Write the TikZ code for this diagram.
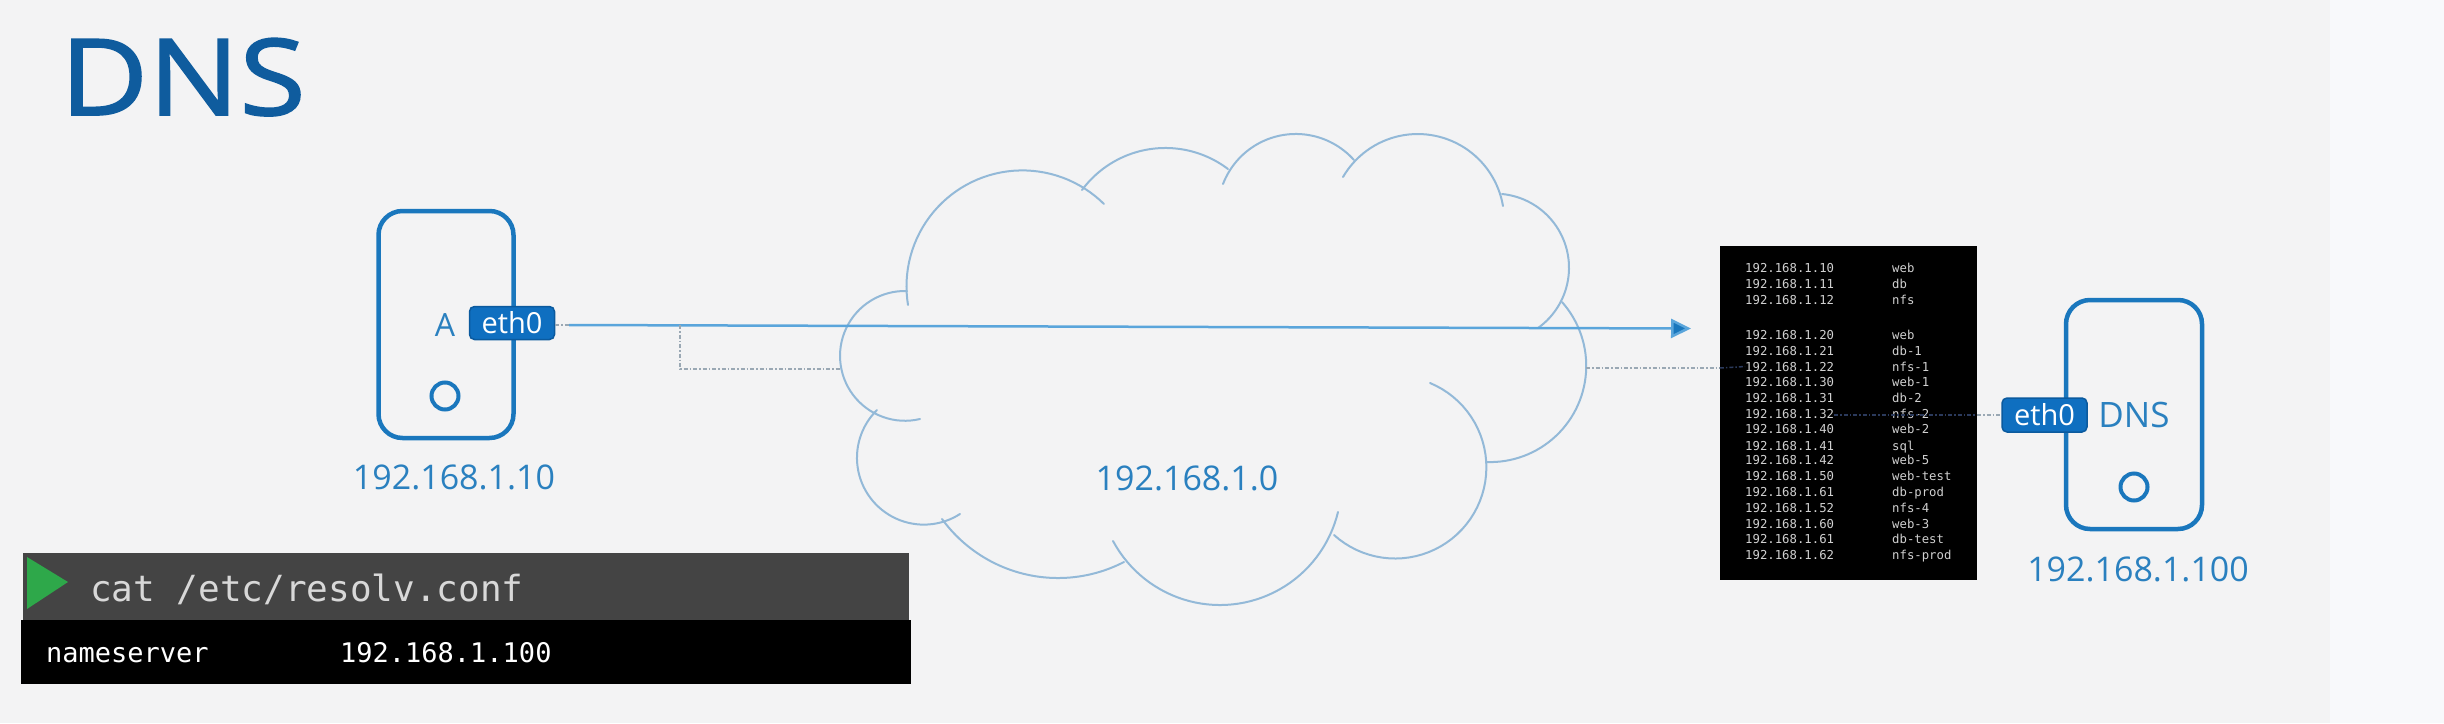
\documentclass[tikz,border=0pt]{standalone}
\usepackage{fontspec}
\setmainfont{Open Sans}
\newfontfamily\monof{DejaVu Sans Mono}
\newfontfamily\titlef[FakeStretch=1.14,FakeBold=1.6]{Open Sans}
\usetikzlibrary{arrows.meta}
\definecolor{bgmain}{HTML}{F3F3F4}
\definecolor{bgright}{HTML}{F8F9FB}
\definecolor{titleblue}{HTML}{0F5C9E}
\definecolor{hostblue}{HTML}{1A77BD}
\definecolor{ipblue}{HTML}{2A80BF}
\definecolor{badgeblue}{HTML}{0F6FC0}
\definecolor{badgeedge}{HTML}{0B5A9E}
\definecolor{cloudblue}{HTML}{93B9D8}
\definecolor{linkblue}{HTML}{5AA5DB}
\definecolor{dotgrey}{HTML}{9AA8B4}
\definecolor{dotdark}{HTML}{2B3A5C}
\definecolor{termgrey}{HTML}{444444}
\definecolor{termgreen}{HTML}{2EA84A}
\definecolor{termtext}{HTML}{D8D8D8}
\definecolor{hoststext}{HTML}{D0D0D0}
\tikzset{
  hostbox/.style={draw=hostblue,line width=4.5pt,rounded corners=24pt,inner sep=0pt},
  badge/.style={draw=badgeedge,line width=1.5pt,fill=badgeblue,rounded corners=5pt,inner sep=0pt,text=white,font=\fontsize{29}{31}\selectfont},
  led/.style={circle,draw=hostblue,line width=4pt,minimum size=27pt,inner sep=0pt},
  iplabel/.style={inner sep=0pt,text=ipblue,font=\fontsize{34}{36}\selectfont},
  cloudline/.style={draw=cloudblue,line width=2pt,line cap=round},
  link/.style={draw=linkblue,line width=2.5pt},
  dotlink/.style={draw=dotgrey,line width=1.5pt,dash pattern=on 4pt off 2pt on 1.5pt off 2pt},
  dotlinkdark/.style={draw=dotdark,line width=1.5pt,dash pattern=on 4pt off 2pt on 1.5pt off 2pt},
  hostsline/.style={inner sep=0pt,anchor=base west,text=hoststext,font=\monof\fontsize{12.3}{14}\selectfont},
  termline/.style={inner sep=0pt,anchor=base west,font=\monof}
}
\newcommand{\hostsrow}[3]{%
  \node[hostsline] (ip#1) at (1745,#1) {#2};
  \node[hostsline] (nm#1) at (1892,#1) {#3};
}
% one cloud lobe: the circular arc through three points (start, middle, end)
\newcommand{\lobe}[6]{%
  \pgfmathsetmacro{\xa}{(#1-1200)/100}\pgfmathsetmacro{\ya}{(#2-370)/100}%
  \pgfmathsetmacro{\xb}{(#3-1200)/100}\pgfmathsetmacro{\yb}{(#4-370)/100}%
  \pgfmathsetmacro{\xc}{(#5-1200)/100}\pgfmathsetmacro{\yc}{(#6-370)/100}%
  \pgfmathsetmacro{\dd}{2*(\xa*(\yb-\yc)+\xb*(\yc-\ya)+\xc*(\ya-\yb))}%
  \pgfmathsetmacro{\sa}{\xa*\xa+\ya*\ya}\pgfmathsetmacro{\sb}{\xb*\xb+\yb*\yb}\pgfmathsetmacro{\sc}{\xc*\xc+\yc*\yc}%
  \pgfmathsetmacro{\ux}{(\sa*(\yb-\yc)+\sb*(\yc-\ya)+\sc*(\ya-\yb))/\dd}%
  \pgfmathsetmacro{\uy}{(\sa*(\xc-\xb)+\sb*(\xa-\xc)+\sc*(\xb-\xa))/\dd}%
  \pgfmathsetmacro{\rr}{sqrt((\xa-\ux)*(\xa-\ux)+(\ya-\uy)*(\ya-\uy))}%
  \pgfmathsetmacro{\aa}{atan2(\ya-\uy,\xa-\ux)}%
  \pgfmathsetmacro{\am}{Mod(atan2(\yb-\uy,\xb-\ux)-\aa,360)}%
  \pgfmathsetmacro{\ab}{Mod(atan2(\yc-\uy,\xc-\ux)-\aa,360)}%
  \pgfmathsetmacro{\ee}{\am<\ab ? \aa+\ab : \aa+\ab-360}%
  \draw[cloudline] plot[domain=\aa:\ee,samples=48,variable=\t] ({1200+100*(\ux+\rr*cos(\t))},{370+100*(\uy+\rr*sin(\t))});%
}
\begin{document}
\begin{tikzpicture}[x=1pt,y=-1pt]
\useasboundingbox (0,0) rectangle (2444,723);
\fill[bgmain] (0,0) rectangle (2330,723);
\fill[bgright] (2330,0) rectangle (2444,723);

% title
\node[inner sep=0pt,anchor=base west,text=titleblue,font=\titlef\fontsize{106}{110}\selectfont] (title) at (60,115) {DNS};

% cloud
\lobe{908}{305}{961}{188}{1104}{204}
\lobe{1082}{190}{1163}{148}{1228}{169}
\lobe{1223}{184}{1293}{134}{1354}{160}
\lobe{1343}{177}{1418}{134}{1503}{206}
\lobe{1502}{194}{1569}{269}{1538}{328}
\lobe{1562}{302}{1586}{359}{1486}{462}
\lobe{1430}{383}{1486}{459}{1334}{535}
\lobe{1338}{512}{1223}{605}{1113}{541}
\lobe{1124}{562}{1055}{578}{942}{519}
\lobe{960}{514}{857}{455}{877}{410}
\lobe{920}{419}{840}{355}{907}{291}
\node[iplabel] (netlabel) at (1187,478) {192.168.1.0};

% host A
\node[hostbox,minimum width=135pt,minimum height=227pt] (hostA) at (446,324.5) {};
\node[inner sep=0pt,text=ipblue,font=\fontsize{32}{34}\selectfont] (labelA) at (445,325) {A};
\node[led] (ledA) at (445,396) {};
\node[iplabel] (ipA) at (454,477) {192.168.1.10};
\node[badge,minimum width=85pt,minimum height=33pt] (ethA) at (512,323) {eth0};

% hosts table
\node[fill=black,inner sep=0pt,minimum width=257pt,minimum height=334pt] (hosts) at (1848.5,413) {};
\hostsrow{272}{192.168.1.10}{web}
\hostsrow{288}{192.168.1.11}{db}
\hostsrow{304}{192.168.1.12}{nfs}
\hostsrow{339}{192.168.1.20}{web}
\hostsrow{355}{192.168.1.21}{db-1}
\hostsrow{371}{192.168.1.22}{nfs-1}
\hostsrow{386}{192.168.1.30}{web-1}
\hostsrow{402}{192.168.1.31}{db-2}
\hostsrow{418}{192.168.1.32}{nfs-2}
\hostsrow{433}{192.168.1.40}{web-2}
\hostsrow{450}{192.168.1.41}{sql}
\hostsrow{464}{192.168.1.42}{web-5}
\hostsrow{480}{192.168.1.50}{web-test}
\hostsrow{496}{192.168.1.61}{db-prod}
\hostsrow{512}{192.168.1.52}{nfs-4}
\hostsrow{528}{192.168.1.60}{web-3}
\hostsrow{543}{192.168.1.61}{db-test}
\hostsrow{559}{192.168.1.62}{nfs-prod}

% host DNS
\node[hostbox,minimum width=136pt,minimum height=229pt] (hostD) at (2134,414.5) {};
\node[inner sep=0pt,text=ipblue,font=\fontsize{35}{37}\selectfont] (labelD) at (2134,415) {DNS};
\node[led] (ledD) at (2134,487) {};
\node[iplabel] (ipD) at (2138,569) {192.168.1.100};
\node[badge,minimum width=85pt,minimum height=34pt] (ethD) at (2044.5,415) {eth0};

% connectors
\coordinate (linkstart) at (569,325);
\coordinate (branch) at (680,325);
\coordinate (branchcorner) at (680,369);
\coordinate (cloudleft) at (841,369);
\coordinate (cloudright) at (1586,368);
\coordinate (arrowtip) at (1691,328.5);
\draw[dotlink] (ethA.east |- linkstart) -- (linkstart);
\draw[link,-{Triangle[length=20pt,width=19pt,fill=hostblue]}] (linkstart) -- (arrowtip);
\draw[dotlink] (branch) -- (branchcorner) -- (cloudleft);
\draw[dotlink] (cloudright) -- (cloudright -| hosts.west);
\draw[dotlinkdark] (cloudright -| hosts.west) -- (ip371.west);
\draw[dotlinkdark] (ethD.west -| ip418.east) -- (ethD.west -| hosts.east);
\draw[dotlink] (ethD.west -| hosts.east) -- (ethD.west);

% terminal
\node[fill=termgrey,inner sep=0pt,minimum width=886pt,minimum height=67pt] (termhead) at (466,586.5) {};
\node[fill=black,inner sep=0pt,minimum width=890pt,minimum height=64pt] (termbody) at (466,652) {};
\fill[termgreen] (27,557) -- (68,582) -- (27,609) -- cycle;
\node[termline,text=termtext,font=\monof\fontsize{36}{38}\selectfont] (cmd) at (90,601) {cat /etc/resolv.conf};
\node[termline,text=white,font=\monof\fontsize{27}{29}\selectfont] (nskey) at (46,662) {nameserver};
\node[termline,text=white,font=\monof\fontsize{27}{29}\selectfont] (nsval) at (340,662) {192.168.1.100};
\end{tikzpicture}
\end{document}
